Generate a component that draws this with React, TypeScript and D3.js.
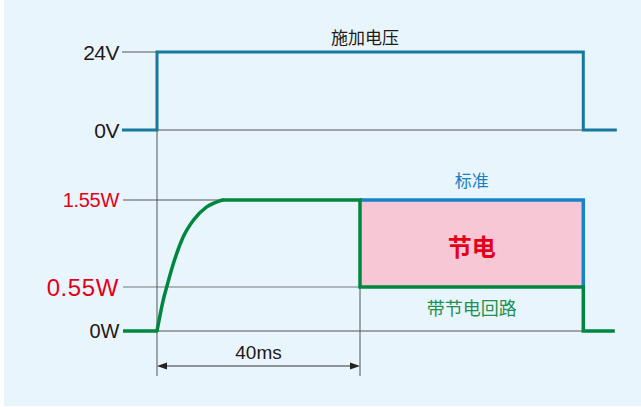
import React, { useEffect, useRef } from 'react';
import * as d3 from 'd3';

// time axis in ms, power in W, voltage in V
const voltageSeries: [number, number][] = [[-6.9, 0], [0, 0], [0, 24], [84, 24], [84, 0], [90.6, 0]];
const savingSeries: [number, number][] = [
  [-6.7, 0], [0, 0], [1.24, 0.39], [1.91, 0.55], [3.23, 0.82], [5.2, 1.13],
  [7.2, 1.32], [9.8, 1.47], [12.9, 1.55], [40, 1.55], [40, 0.55], [84, 0.55], [84, 0], [90.2, 0],
];
const standardSeries: [number, number][] = [[40, 1.55], [84, 1.55], [84, 0.55]];
const savedBand = { t0: 40, t1: 84, low: 0.55, high: 1.55 };
const voltTicks = [24, 0];
const powerTicks = [1.55, 0.55, 0];
const powerTickLabels = ['1.55W', '0.55W', '0W'];
const spanLabel = '40ms';
const labels = { volt: '施加电压', standard: '标准', saved: '节电', circuit: '带节电回路' };

const latin = '"Liberation Sans", Arial, sans-serif';
const cjk = '"Noto Sans CJK SC", "Noto Sans", sans-serif';

const App = () => {
  const svgRef = useRef<SVGSVGElement>(null);

  useEffect(() => {
    const width = 641;
    const height = 407;
    const svg = d3.select(svgRef.current).attr('width', width).attr('height', height);
    svg.selectAll('*').remove();

    svg.append('rect').attr('width', width).attr('height', height).attr('fill', '#ffffff');
    svg.append('rect').attr('x', 4).attr('y', 0).attr('width', width - 4).attr('height', 406).attr('fill', '#e8f5fd');

    const x = d3.scaleLinear().domain([0, 40]).range([157, 360]);
    const yV = d3.scaleLinear().domain([0, 24]).range([130, 52]);
    const yP = d3.scaleLinear().domain([0, 0.55, 1.55]).range([331, 287, 200]);

    const grid = svg.append('g').attr('stroke', '#555').attr('stroke-width', 1).attr('fill', 'none');
    // voltage guides
    grid.append('line').attr('x1', 122).attr('x2', x(0)).attr('y1', yV(24)).attr('y2', yV(24));
    grid.append('line').attr('x1', x(0)).attr('x2', x(84)).attr('y1', yV(0)).attr('y2', yV(0));
    // power guides
    grid.append('line').attr('x1', 123).attr('x2', x(40)).attr('y1', yP(1.55)).attr('y2', yP(1.55));
    grid.append('line').attr('x1', 123).attr('x2', x(84)).attr('y1', yP(0.55)).attr('y2', yP(0.55)).attr('stroke', '#777');
    grid.append('line').attr('x1', x(0)).attr('x2', x(84)).attr('y1', yP(0)).attr('y2', yP(0));
    // vertical markers
    grid.append('line').attr('x1', x(0)).attr('x2', x(0)).attr('y1', yV(0)).attr('y2', 376);
    grid.append('line').attr('x1', x(40)).attr('x2', x(40)).attr('y1', yP(0.55)).attr('y2', 376);

    // saved energy band
    svg.append('rect')
      .attr('x', x(savedBand.t0)).attr('y', yP(savedBand.high))
      .attr('width', x(savedBand.t1) - x(savedBand.t0))
      .attr('height', yP(savedBand.low) - yP(savedBand.high))
      .attr('fill', '#f7c7d5');

    const lineV = d3.line<[number, number]>().x(d => x(d[0])).y(d => yV(d[1]));
    const lineP = d3.line<[number, number]>().x(d => x(d[0])).y(d => yP(d[1]));
    const lineCurve = d3.line<[number, number]>().x(d => x(d[0])).y(d => yP(d[1])).curve(d3.curveMonotoneX);

    svg.append('path').attr('d', lineV(voltageSeries)).attr('fill', 'none')
      .attr('stroke', '#15789c').attr('stroke-width', 3).attr('stroke-linejoin', 'miter');

    svg.append('path').attr('d', lineP(standardSeries)).attr('fill', 'none')
      .attr('stroke', '#1683cb').attr('stroke-width', 3.5);

    // green: curved rise, then step segments
    const rise = savingSeries.filter(d => d[0] >= 0 && d[0] <= 12.9);
    const flat = savingSeries.filter(d => d[0] >= 12.9);
    const g = svg.append('g').attr('fill', 'none').attr('stroke', '#00873f').attr('stroke-width', 3.5);
    g.append('path').attr('d', lineP([savingSeries[0], savingSeries[1]]));
    g.append('path').attr('d', lineCurve(rise)).attr('stroke-linecap', 'round');
    g.append('path').attr('d', lineP(flat));

    // 40ms dimension arrow
    const ay = 366;
    svg.append('line').attr('x1', x(0) + 8).attr('x2', x(40) - 8).attr('y1', ay).attr('y2', ay)
      .attr('stroke', '#333').attr('stroke-width', 1);
    svg.append('path')
      .attr('d', `M${x(0)},${ay}l10,-3.5v7z M${x(40)},${ay}l-10,-3.5v7z`)
      .attr('fill', '#222');
    svg.append('text').attr('x', (x(0) + x(40)) / 2).attr('y', 359).attr('text-anchor', 'middle')
      .attr('font-family', latin).attr('font-size', 19).attr('fill', '#231815').text(spanLabel);

    // axis labels
    svg.selectAll('.vtick').data(voltTicks).enter().append('text')
      .attr('x', 119).attr('y', d => yV(d) + 7.5).attr('text-anchor', 'end')
      .attr('font-family', latin).attr('font-size', 21).attr('letter-spacing', -0.5)
      .attr('fill', '#231815').text(d => `${d}V`);

    svg.selectAll('.ptick').data(powerTicks).enter().append('text')
      .attr('x', 119).attr('y', d => yP(d) + (d === 0.55 ? 8.5 : 7))
      .attr('text-anchor', 'end').attr('font-family', latin)
      .attr('font-size', d => (d === 0.55 ? 24 : 20))
      .attr('letter-spacing', d => (d === 0.55 ? 0.6 : -0.3))
      .attr('fill', d => (d === 0 ? '#231815' : '#e50019'))
      .text((d, i) => powerTickLabels[i]);

    // annotations
    const mid = (x(40) + x(84)) / 2;
    svg.append('text').attr('x', 365).attr('y', 44).attr('text-anchor', 'middle')
      .attr('font-family', cjk).attr('font-size', 17).attr('fill', '#231815').text(labels.volt);
    svg.append('text').attr('x', mid).attr('y', 187).attr('text-anchor', 'middle')
      .attr('font-family', cjk).attr('font-size', 17).attr('fill', '#1a7fc4').text(labels.standard);
    svg.append('text').attr('x', mid).attr('y', 256).attr('text-anchor', 'middle')
      .attr('font-family', cjk).attr('font-size', 24).attr('font-weight', 'bold')
      .attr('fill', '#e50019').text(labels.saved);
    svg.append('text').attr('x', mid).attr('y', 315).attr('text-anchor', 'middle')
      .attr('font-family', cjk).attr('font-size', 18).attr('fill', '#1f9150').text(labels.circuit);
  }, []);

  return (
    <div style={{ position: 'absolute', left: 0, top: 0 }}>
      <svg ref={svgRef} style={{ display: 'block' }}></svg>
    </div>
  );
};

export default App;
